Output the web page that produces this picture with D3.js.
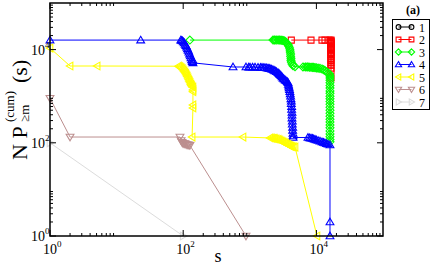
<!DOCTYPE html>
<meta charset="utf-8">
<style>
body { margin: 0; background: #fff; }
svg text { font-family: "Liberation Serif", "Times New Roman", serif; }
.frame { fill: none; stroke: #000; stroke-width: 1.5px; }
.tick { stroke: #000; stroke-width: 1px; }
.series path.line { fill: none; stroke-width: 1px; }
.series path.mark { fill: none; stroke-width: 1.1px; }
</style>
<svg width="431" height="266"></svg>
<script src="https://d3js.org/d3.v7.min.js"></script>
<script>

// --- data, [s, N P] pairs
var s1 = [];
var s2 = [[4200,16000],[8300,16000],[12130,16000],[13460,16000],[15500,16000],[16560,16000],[16560,15400],[16560,14800],[16560,14200],[16560,13600],[16560,13000],[16560,12400],[16560,11800],[16560,11200],[16560,10600],[16560,10000],[16560,9400],[16560,8800],[16560,8200],[16560,7600],[16560,7000],[16560,6400],[16560,5800],[16560,5200],[16560,4600],[16560,4000],[16560,3500],[16560,2460]];
var s3 = [[126,16000],[2230,16000],[2320,16000],[2390,16000],[2500,16000],[2650,16000],[2750,16000],[2840,16000],[2950,15900],[3050,15800],[3150,15700],[3280,15400],[3380,15000],[3500,14400],[3620,13600],[3750,12800],[3850,11800],[3950,10800],[4015,9800],[4050,8900],[4100,8000],[4100,7200],[4150,6500],[4150,5900],[4200,5400],[4300,4900],[4455,4500],[4775,4300],[6290,4235],[6800,4235],[7225,4235],[7480,4235],[7900,4200],[8300,4200],[8700,4150],[9100,4150],[9530,4100],[10000,4050],[10600,4000],[11320,3950],[12130,3850],[12800,3700],[13460,3550],[14200,3350],[15000,3150],[15800,2950],[16000,2700],[16000,2450],[16000,2200],[16000,1950],[16000,1700],[16000,1500],[16000,1300],[16000,1150],[16000,1000],[16000,880],[16000,770],[16000,670],[16000,580],[16000,500],[16000,430],[16000,370],[16000,320],[16000,280],[16000,240],[16000,210],[16000,180],[16000,155],[16000,135],[16000,118],[16000,105]];
var s4 = [[1,16000],[23,16000],[92,16000],[95,15800],[98,15300],[101,14600],[104,13900],[107,13000],[110,12200],[113,11300],[116,10400],[119,9600],[122,8800],[125,8000],[128,7300],[131,6600],[134,6000],[137,5500],[140,5900],[140,5200],[560,4235],[877,4235],[960,4200],[1007,4200],[1100,4200],[1197,4200],[1328,4150],[1450,4150],[1525,4150],[1620,4100],[1691,4100],[1790,4050],[1877,4000],[1950,3950],[2011,3900],[2120,3800],[2230,3700],[2320,3600],[2400,3500],[2520,3350],[2650,3200],[2750,3050],[2840,2900],[2950,2750],[3050,2600],[3150,2450],[3250,2350],[3380,2250],[3500,2150],[3650,2050],[3750,1950],[3800,1800],[3850,1650],[3900,1500],[3950,1380],[4000,1250],[4050,1120],[4100,1000],[4150,880],[4200,780],[4200,690],[4250,600],[4250,520],[4300,450],[4300,390],[4300,340],[4350,290],[4350,250],[4400,215],[4400,185],[4455,160],[4455,140],[4455,130],[7480,130],[7900,128],[8300,126],[8700,124],[9100,121],[9530,118],[10000,115],[10600,112],[11320,109],[12130,105],[12800,102],[13460,99],[14200,96],[15000,93],[16000,90],[16000,2],[16000,1]];
var s5 = [[1,10800],[2,4445],[5.1,4445],[85,4400],[88,4300],[91,4150],[94,4000],[97,3850],[100,3650],[103,3450],[106,3250],[109,3050],[112,2850],[115,2650],[118,2450],[121,2250],[124,2100],[127,1950],[130,1800],[133,1700],[136,1600],[140,1550],[140,1360],[140,1250],[140,650],[140,560],[136,133],[790,133],[2011,127],[2120,126],[2230,125],[2320,124],[2390,122],[2500,120],[2650,118],[2750,115],[2840,112],[2950,109],[3050,106],[3150,104],[3280,101],[3380,99],[3500,96],[3650,93],[3750,91],[3900,88],[4015,86],[4150,84],[4300,83],[4500,82],[4775,81],[10200,1]];
var s6 = [[1,900],[2,133],[89.5,133],[93,112],[96,102],[99,97],[103,95],[106,96],[110,93],[114,90],[118,90],[122,89],[126,88],[877,1]];
var s7 = [[1,100],[100,1]];

var seriesNames = ["1","2","3","4","5","6","7"];
var seriesData = [s1, s2, s3, s4, s5, s6, s7];
var seriesColors = ["#000000","#ff0000","#00ff00","#0000ff","#ffff00","#bc8f8f","#dcdcdc"];
var seriesSymbols = ["circle","square","diamond","up","left","down","right"];

var majorTicks = [1, 100, 10000];
var majorExp = ["0", "2", "4"];

// --- layout
var svg = d3.select("svg"),
    margin = {top: 3, right: 48, bottom: 30, left: 50},
    width = 431 - margin.left - margin.right,
    height = 266 - margin.top - margin.bottom;

var x = d3.scaleLog().domain([1, 1e5]).range([margin.left, margin.left + width]),
    y = d3.scaleLog().domain([1, 1e5]).range([margin.top + height, margin.top]);

// minor ticks 2..9 in the decades that start at a major tick
var minorTicks = [];
majorTicks.forEach(function(m) {
  for (var k = 2; k <= 9; k++) minorTicks.push(m * k);
});

function symbolPath(kind, s) {
  // s scales the glyph; 1 = plot size
  var p;
  switch (kind) {
    case "circle": p = [[-3,0]]; return "M-" + 3*s + ",0A" + 3*s + "," + 3*s + " 0 1,0 " + 3*s + ",0A" + 3*s + "," + 3*s + " 0 1,0 -" + 3*s + ",0";
    case "square": p = [[-3,-3],[3,-3],[3,3],[-3,3]]; break;
    case "diamond": p = [[0,-4],[4,0],[0,4],[-4,0]]; break;
    case "up": p = [[0,-3.8],[3.9,2.8],[-3.9,2.8]]; break;
    case "down": p = [[0,3.8],[3.9,-2.8],[-3.9,-2.8]]; break;
    case "left": p = [[-3.8,0],[2.8,-3.9],[2.8,3.9]]; break;
    case "right": p = [[3.8,0],[-2.8,-3.9],[-2.8,3.9]]; break;
  }
  return "M" + p.map(function(q) { return (q[0]*s) + "," + (q[1]*s); }).join("L") + "Z";
}

var line = d3.line()
    .x(function(d) { return x(d[0]); })
    .y(function(d) { return y(d[1]); });

svg.append("clipPath").attr("id", "plotclip")
  .append("rect")
    .attr("x", margin.left - 5).attr("y", margin.top - 5)
    .attr("width", width + 10).attr("height", height + 10);

var plot = svg.append("g").attr("clip-path", "url(#plotclip)");

seriesData.forEach(function(data, i) {
  var g = plot.append("g").attr("class", "series");
  g.append("path")
      .datum(data)
      .attr("class", "line")
      .attr("stroke", seriesColors[i])
      .attr("d", line);
  g.selectAll("path.mark")
    .data(data)
    .enter().append("path")
      .attr("class", "mark")
      .attr("stroke", seriesColors[i])
      .attr("transform", function(d) { return "translate(" + x(d[0]) + "," + y(d[1]) + ")"; })
      .attr("d", symbolPath(seriesSymbols[i], 1));
});

// --- frame and ticks (inward, all four sides)
svg.append("rect")
    .attr("class", "frame")
    .attr("x", margin.left).attr("y", margin.top)
    .attr("width", width).attr("height", height);

var x0 = margin.left, x1 = margin.left + width,
    y0 = margin.top + height, y1 = margin.top;

function ticks(vals, len) {
  vals.forEach(function(v) {
    var px = x(v), py = y(v);
    svg.append("line").attr("class", "tick").attr("x1", px).attr("x2", px).attr("y1", y0).attr("y2", y0 - len);
    svg.append("line").attr("class", "tick").attr("x1", px).attr("x2", px).attr("y1", y1).attr("y2", y1 + len);
    svg.append("line").attr("class", "tick").attr("y1", py).attr("y2", py).attr("x1", x0).attr("x2", x0 + len);
    svg.append("line").attr("class", "tick").attr("y1", py).attr("y2", py).attr("x1", x1).attr("x2", x1 - len);
  });
}
ticks(majorTicks, 6);
ticks(minorTicks, 3);

// tick labels
majorTicks.forEach(function(v, i) {
  var tx = svg.append("text")
      .attr("x", x(v) - 7).attr("y", y0 + 18)
      .style("font-size", "14px");
  tx.append("tspan").text("10");
  tx.append("tspan").attr("dy", -7).style("font-size", "9px").text(majorExp[i]);

  var ty = svg.append("text")
      .attr("x", x0 - 19).attr("y", y(v) + 5)
      .style("font-size", "14px");
  ty.append("tspan").text("10");
  ty.append("tspan").attr("dy", -7).style("font-size", "9px").text(majorExp[i]);
});

// axis titles
svg.append("text")
    .attr("x", 218).attr("y", 262)
    .attr("text-anchor", "middle")
    .style("font-size", "18px")
    .text("s");

var yt = svg.append("g").attr("transform", "translate(27,160) rotate(-90)");
yt.append("text").attr("x", 0).attr("y", 0).style("font-size", "22px").text("N P");
yt.append("text").attr("x", 38).attr("y", -13).style("font-size", "13px").text("(cum)");
yt.append("text").attr("x", 38).attr("y", 2).style("font-size", "13px").text("\u2265m");
yt.append("text").attr("x", 77).attr("y", 0).style("font-size", "22px").text("(s)");

// panel tag
svg.append("text")
    .attr("x", 413).attr("y", 14)
    .attr("text-anchor", "middle")
    .style("font-size", "12px").style("font-weight", "bold")
    .text("(a)");

// legend
var legend = svg.append("g");
legend.append("rect")
    .attr("x", 392.5).attr("y", 19.5).attr("width", 37).attr("height", 90)
    .attr("fill", "#fff").attr("stroke", "#000").attr("stroke-width", 1);

seriesNames.forEach(function(name, i) {
  var ly = 27 + i * 12.5;
  var row = legend.append("g").attr("class", "series");
  row.append("line")
      .attr("x1", 398.5).attr("x2", 411.5).attr("y1", ly).attr("y2", ly)
      .attr("stroke", seriesColors[i]).attr("stroke-width", 1);
  [398.5, 411.5].forEach(function(lx) {
    row.append("path")
        .attr("class", "mark")
        .attr("stroke", seriesColors[i])
        .attr("transform", "translate(" + lx + "," + ly + ")")
        .attr("d", symbolPath(seriesSymbols[i], 0.8));
  });
  row.append("text")
      .attr("x", 419).attr("y", ly + 4.5)
      .style("font-size", "12px")
      .text(name);
});

</script>
